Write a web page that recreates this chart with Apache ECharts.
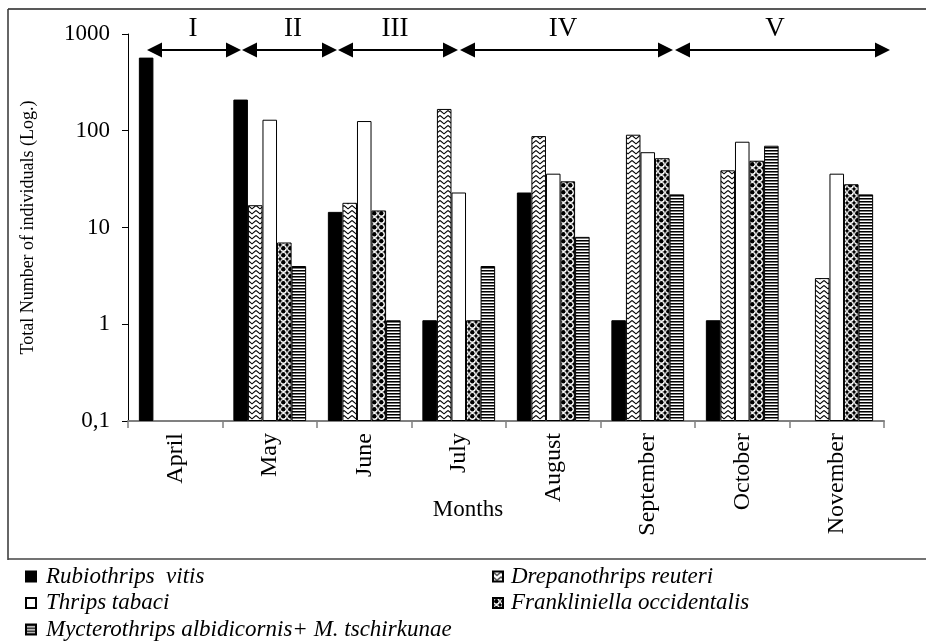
<!DOCTYPE html>
<html><head><meta charset="utf-8">
<script src="https://cdn.jsdelivr.net/npm/echarts@6/dist/echarts.min.js"></script>
<style>html,body{margin:0;padding:0;background:#fff}#c{width:926px;height:642px}</style>
</head><body><div id="c"></div>
<script>
// ---- data ----
const months = ['April','May','June','July','August','September','October','November'];
const rubiothrips   = [570, 210, 14.5, 1.1, 23, 1.1, 1.1, null];
const drepanothrips = [null, 17, 18, 168, 88, 91, 39, 3];
const tabaci        = [null, 130, 126, 23, 36, 60, 77, 36];
const frankliniella = [null, 7, 15, 1.1, 30, 52, 49, 28];
const mycterothrips = [null, 4, 1.1, 4, 8, 22, 70, 22];
const yTickLabels = ['0,1','1','10','100','1000'];
const periodLabels = ['I','II','III','IV','V'];
const seriesNames = ['Rubiothrips  vitis','Drepanothrips reuteri','Thrips tabaci','Frankliniella occidentalis','Mycterothrips albidicornis+ M. tschirkunae'];

// ---- layout (annotation geometry, pixels) ----
const periodLayout = [
  {x1:147, x2:241, tx:193},
  {x1:242, x2:337, tx:293},
  {x1:338, x2:458, tx:395},
  {x1:460, x2:673, tx:563},
  {x1:675, x2:890, tx:775}
];
const SERIF = '"Liberation Serif","Times New Roman",serif';

// ---- patterns ----
function tile(w,h,draw){const c=document.createElement('canvas');c.width=w;c.height=h;const g=c.getContext('2d');draw(g,w,h);return c;}
const zigzag = tile(8,5,(g,w,h)=>{g.fillStyle='#fff';g.fillRect(0,0,w,h);g.strokeStyle='#000';g.lineWidth=1.1;
  g.beginPath();g.moveTo(0,0.5);g.lineTo(4,3.8);g.lineTo(8,0.5);g.stroke();});
const balls = tile(7,7,(g,w,h)=>{g.fillStyle='#000';g.fillRect(0,0,w,h);g.fillStyle='#fff';
  g.beginPath();g.arc(3.5,3.5,3.4,0,Math.PI*2);g.fill();g.fillStyle='#000';g.beginPath();g.arc(3.3,3.2,2.2,0,Math.PI*2);g.fill();});
const stripes = tile(4,3,(g,w,h)=>{g.fillStyle='#fff';g.fillRect(0,0,w,h);g.fillStyle='#000';g.fillRect(0,0,w,1);g.fillStyle='#777';g.fillRect(0,1,w,1);});

const fills = ['#000', {image:zigzag,repeat:'repeat'}, '#fff', {image:balls,repeat:'repeat'}, {image:stripes,repeat:'repeat'}];
const values = [rubiothrips, drepanothrips, tabaci, frankliniella, mycterothrips];

const chart = echarts.init(document.getElementById('c'), null, {renderer:'canvas'});

const series = seriesNames.map((n,i)=>({
  name:n, type:'bar', data:values[i],
  barGap:'0%', barCategoryGap:'23%',
  itemStyle:{color:fills[i], borderColor:'#000', borderWidth:1},
  emphasis:{disabled:true}, animation:false
}));

const graphic = [
  {type:'line', shape:{x1:8,y1:9,x2:926,y2:9}, style:{stroke:'#222',lineWidth:1.5}},
  {type:'line', shape:{x1:8,y1:9,x2:8,y2:560}, style:{stroke:'#333',lineWidth:1.5}},
  {type:'line', shape:{x1:8,y1:559,x2:926,y2:559}, style:{stroke:'#444',lineWidth:1.5}},
  {type:'text', x:468, y:510, style:{text:'Months', font:'23px '+SERIF, fill:'#000', align:'center', verticalAlign:'middle'}}
];
periodLayout.forEach((p,i)=>{
  const y=50, hl=15, hh=7.5;
  graphic.push({type:'line', shape:{x1:p.x1+hl-2,y1:y,x2:p.x2-hl+2,y2:y}, style:{stroke:'#000',lineWidth:2}});
  graphic.push({type:'polygon', shape:{points:[[p.x1,y],[p.x1+hl,y-hh],[p.x1+hl,y+hh]]}, style:{fill:'#000'}});
  graphic.push({type:'polygon', shape:{points:[[p.x2,y],[p.x2-hl,y-hh],[p.x2-hl,y+hh]]}, style:{fill:'#000'}});
  graphic.push({type:'text', x:p.tx, y:29, style:{text:periodLabels[i], font:'27px '+SERIF, fill:'#000', align:'center', verticalAlign:'middle'}});
});

const legendText = {fontFamily:SERIF, fontStyle:'italic', fontSize:23, color:'#000', lineHeight:23, padding:[0,0,0,5]};
chart.setOption({
  animation:false,
  backgroundColor:'#fff',
  grid:{left:128, right:42, top:34, bottom:221, containLabel:false},
  legend:[
    {data:[seriesNames[0],seriesNames[2],seriesNames[4]], orient:'vertical', left:25, top:565, icon:'rect',
     itemWidth:10, itemHeight:10, itemGap:3.5, selectedMode:false, textStyle:legendText, padding:0},
    {data:[seriesNames[1],seriesNames[3]], orient:'vertical', left:492, top:565, icon:'rect',
     itemWidth:10, itemHeight:10, itemGap:3.5, selectedMode:false, textStyle:Object.assign({}, legendText, {padding:[0,0,0,3]}), padding:0}
  ],
  xAxis:{type:'category', data:months,
    axisLine:{lineStyle:{color:'#808080', width:2}},
    axisTick:{show:true, length:7, lineStyle:{color:'#808080', width:1.5}},
    axisLabel:{rotate:90, margin:12, fontFamily:SERIF, fontSize:24, color:'#000'},
    splitLine:{show:false}},
  yAxis:{type:'log', logBase:10, min:0.1, max:1000, startValue:0.1,
    name:'Total Number of individuals (Log.)', nameLocation:'middle', nameGap:91, nameRotate:90,
    nameTextStyle:{fontFamily:SERIF, fontSize:18, color:'#000'},
    axisLine:{show:true, lineStyle:{color:'#000', width:1}},
    axisTick:{show:true, inside:false, length:6, lineStyle:{color:'#000'}},
    minorTick:{show:false},
    axisLabel:{fontFamily:SERIF, fontSize:23, color:'#000', margin:18,
      formatter:v=>yTickLabels[Math.round(Math.log10(v))+1]},
    splitLine:{show:false}},
  series:series,
  graphic:graphic
});
</script></body></html>
